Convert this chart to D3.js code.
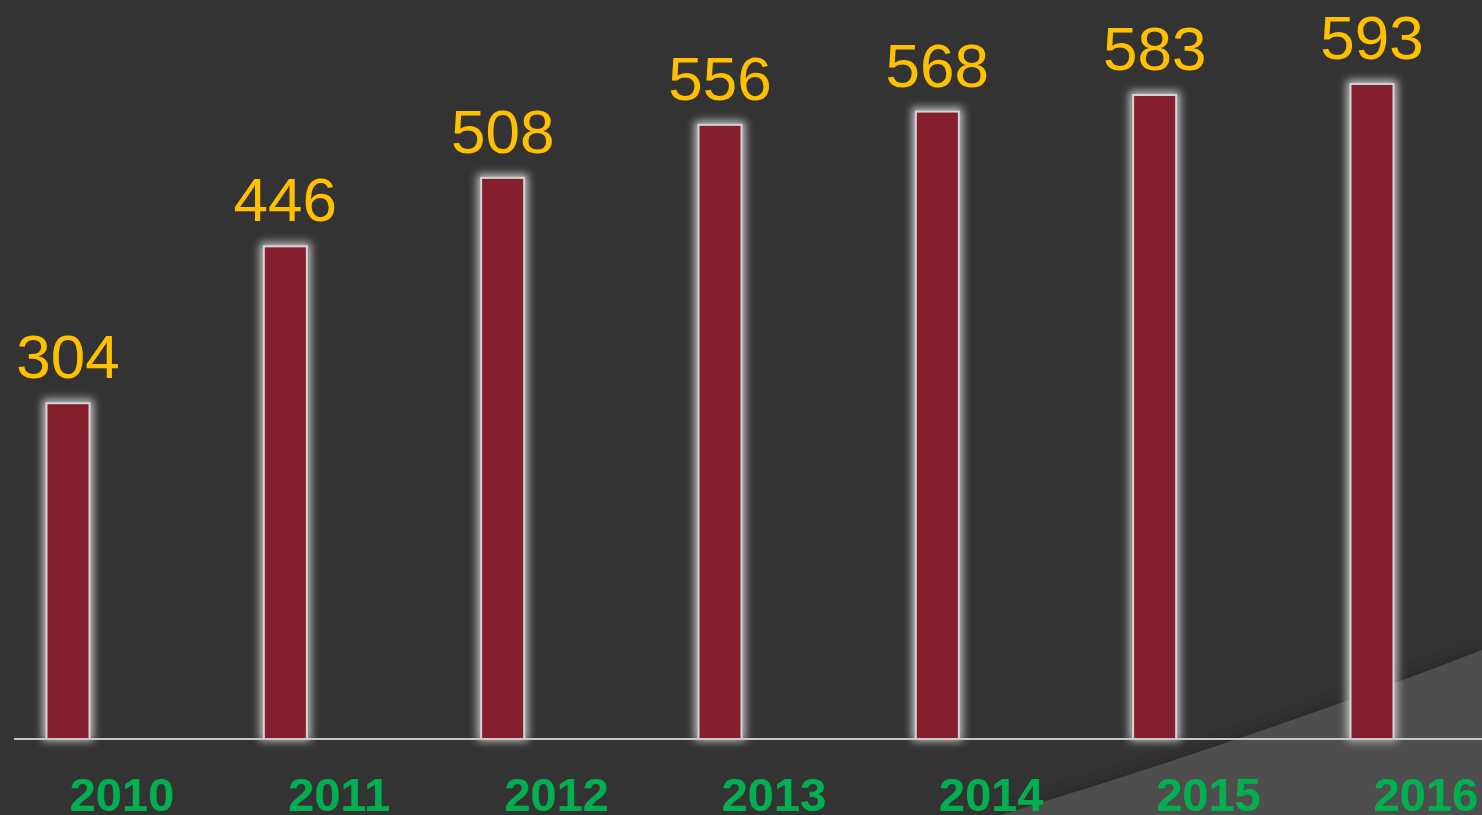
<!DOCTYPE html>
<html>
<head>
<meta charset="utf-8">
<script src="https://cdn.jsdelivr.net/npm/d3@7"></script>
<style>
  html, body { margin: 0; padding: 0; background: #333333; overflow: hidden; }
  svg { display: block; }
</style>
</head>
<body>
<svg id="chart" width="1482" height="815"></svg>
<script>
const years = ["2010", "2011", "2012", "2013", "2014", "2015", "2016"];
const values = [304, 446, 508, 556, 568, 583, 593];

const W = 1482, H = 815;
const svg = d3.select("#chart");

svg.append("rect").attr("width", W).attr("height", H).attr("fill", "#333333");

const defs = svg.append("defs");
const glow = defs.append("filter").attr("id", "glow")
  .attr("x", "-60%").attr("y", "-10%").attr("width", "220%").attr("height", "120%");
glow.append("feGaussianBlur").attr("stdDeviation", 4.5);

const shadow = defs.append("filter").attr("id", "shadow")
  .attr("x", "-10%").attr("y", "-20%").attr("width", "120%").attr("height", "140%");
shadow.append("feGaussianBlur").attr("stdDeviation", 6);

// decorative background swoosh
svg.append("path")
  .attr("d", "M 1000 815 Q 1250 740 1482 650 L 1482 815 Z")
  .attr("fill", "#262626").attr("opacity", 0.7)
  .attr("transform", "translate(0,-4)")
  .attr("filter", "url(#shadow)");
svg.append("path")
  .attr("d", "M 1000 815 Q 1250 740 1482 650 L 1482 815 Z")
  .attr("fill", "#4e4e4e");

const x = d3.scalePoint().domain(years).range([68, 1372]);
const y = d3.scaleLinear().domain([0, 600]).range([739, 739 - 600 * 1.1046]);
const bw = 43;

const g = svg.append("g");

// glow
g.selectAll("rect.glow").data(values).join("rect")
  .attr("class", "glow")
  .attr("x", (d, i) => x(years[i]) - bw / 2 - 4)
  .attr("y", d => y(d) - 4)
  .attr("width", bw + 8)
  .attr("height", d => y(0) - y(d) + 6)
  .attr("fill", "#d8d8d8")
  .attr("opacity", 0.85)
  .attr("filter", "url(#glow)");

g.selectAll("rect.bar").data(values).join("rect")
  .attr("class", "bar")
  .attr("x", (d, i) => x(years[i]) - bw / 2)
  .attr("y", d => y(d))
  .attr("width", bw)
  .attr("height", d => y(0) - y(d))
  .attr("fill", "#861F2D")
  .attr("stroke", "#d4d4d4")
  .attr("stroke-width", 2);

// baseline
svg.append("line")
  .attr("x1", 14).attr("x2", W)
  .attr("y1", y(0)).attr("y2", y(0))
  .attr("stroke", "#c8c8c8").attr("stroke-width", 2);

// value labels
svg.selectAll("text.val").data(values).join("text")
  .attr("class", "val")
  .attr("x", (d, i) => x(years[i]))
  .attr("y", d => y(d) - 25)
  .attr("text-anchor", "middle")
  .attr("font-family", "Liberation Sans, Arial, sans-serif")
  .attr("font-size", 62)
  .attr("fill", "#FFC000")
  .text(d => d);

// year labels
svg.selectAll("text.year").data(years).join("text")
  .attr("class", "year")
  .attr("x", d => x(d) + 54)
  .attr("y", 811)
  .attr("text-anchor", "middle")
  .attr("font-family", "Liberation Sans, Arial, sans-serif")
  .attr("font-weight", "bold")
  .attr("font-size", 47)
  .attr("fill", "#00B050")
  .text(d => d);
</script>
</body>
</html>
